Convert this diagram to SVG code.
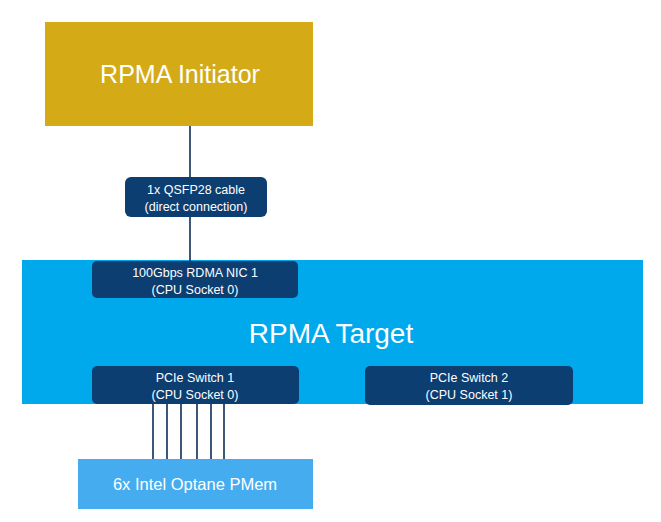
<svg xmlns="http://www.w3.org/2000/svg" width="661" height="522" viewBox="0 0 661 522">
<style>
text{font-family:"Liberation Sans","Open Sans",sans-serif;fill:#fff;text-anchor:middle}
.big{font-size:25px}
.sm{font-size:12.5px}
.navy{fill:#0c3e72}
.conn line{stroke:#0c2f57;stroke-width:1.6}
</style>
<rect width="661" height="522" fill="#fff"/>
<g id="initiator">
<rect x="45" y="22" width="268" height="104" fill="#d4ab17"/>
<text class="big" x="180" y="83">RPMA Initiator</text>
</g>
<g id="target">
<rect x="22" y="260" width="621" height="144" fill="#00a8ec"/>
<text x="331" y="343" style="font-size:28px">RPMA Target</text>
</g>
<g id="pmem">
<rect x="78" y="459" width="235" height="50" fill="#45acef"/>
<text x="195" y="490" style="font-size:16.5px">6x Intel Optane PMem</text>
</g>
<g class="conn" id="connectors">
<line x1="190" y1="126" x2="190" y2="262"/>
<line x1="153" y1="404" x2="153" y2="459"/>
<line x1="167" y1="404" x2="167" y2="459"/>
<line x1="181" y1="404" x2="181" y2="459"/>
<line x1="197" y1="404" x2="197" y2="459"/>
<line x1="211" y1="404" x2="211" y2="459"/>
<line x1="224" y1="404" x2="224" y2="459"/>
</g>
<g id="cable">
<rect class="navy" x="125" y="177" width="142" height="40" rx="6"/>
<text class="sm" x="196" y="194">1x QSFP28 cable</text>
<text class="sm" x="196" y="211">(direct connection)</text>
</g>
<g id="nic">
<rect class="navy" x="92" y="261" width="206" height="37" rx="5"/>
<text class="sm" x="195" y="277">100Gbps RDMA NIC 1</text>
<text class="sm" x="195" y="294">(CPU Socket 0)</text>
</g>
<g id="pcie1">
<rect class="navy" x="92" y="366" width="207" height="38" rx="5"/>
<text class="sm" x="195" y="382">PCIe Switch 1</text>
<text class="sm" x="195" y="399">(CPU Socket 0)</text>
</g>
<g id="pcie2">
<rect class="navy" x="365" y="366" width="208" height="39" rx="5"/>
<text class="sm" x="469" y="382">PCIe Switch 2</text>
<text class="sm" x="469" y="399">(CPU Socket 1)</text>
</g>
</svg>
